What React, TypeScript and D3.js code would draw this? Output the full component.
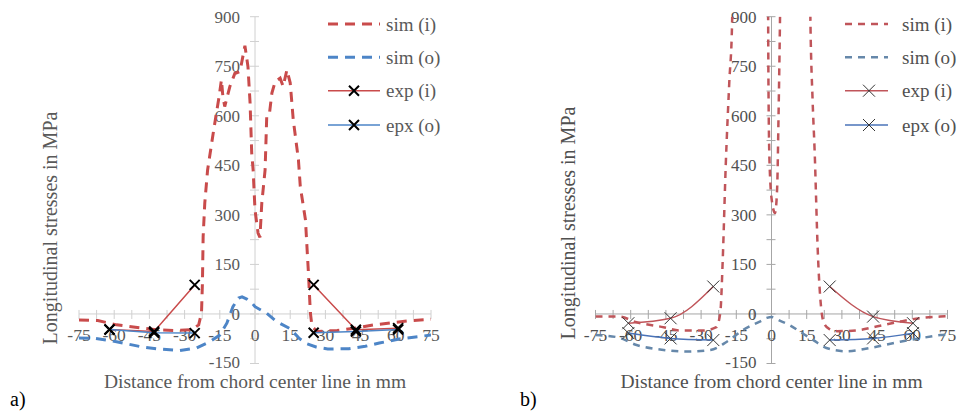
import { useEffect, useRef } from "react";
import * as d3 from "d3";

// ---- chart a) ----
const simInA = [
  [-75, -18], [-67, -20], [-59, -33], [-51, -40], [-42, -48], [-34, -50], [-27, -48], [-24, -33],
  [-22.8, 3], [-22.4, 94], [-22.1, 234], [-21.4, 336], [-20.2, 436], [-17.6, 557], [-15.3, 658],
  [-14.3, 709], [-13.7, 660], [-12.9, 628], [-10.7, 689], [-8.6, 728], [-6.4, 734], [-4.3, 812],
  [-3, 749], [-2.1, 639], [-1.4, 487], [-0.8, 436], [0, 315], [1.3, 245], [2.1, 232], [2.9, 336],
  [4.3, 436], [5, 598], [6.1, 603], [7.2, 669], [8.6, 704], [10.7, 714], [12, 689], [13.6, 739],
  [15, 700], [16.3, 588], [18.5, 467], [19.3, 386], [21.5, 285], [22.7, 133], [23.6, 3], [24.3, -38],
  [26.5, -53], [35, -50], [43.6, -42], [50.6, -33], [59, -26], [66.5, -20], [75, -16],
];
const simOutA = [
  [-75, -73], [-68, -74], [-59, -84], [-48, -100], [-41, -106], [-32, -111], [-25, -103], [-19.3, -84],
  [-15, -64], [-12, -28], [-9.4, 22], [-7, 48], [-5.5, 52], [-3.5, 45], [-1.5, 35], [0, 22], [2.5, 12],
  [5, 2], [9, -22], [15, -45], [19, -75], [22, -90], [26, -100], [31, -106], [40, -105], [47, -98],
  [53, -88], [62, -75], [75, -64],
];
const expXA = [-62, -43, -25.7, 25, 43, 61];
const expInA = [-47, -53, 88, 88, -48, -43];
const expOutA = [-47, -57, -58, -57, -53, -47];

// ---- chart b) ----
const simInB = [
  [-75, -8], [-65, -8], [-57.5, -25], [-46, -40], [-39, -50], [-29, -50], [-23.5, -40], [-21.8, 5],
  [-20.8, 160], [-19.5, 450], [-18, 700], [-16.8, 880], [-16.3, 1100], [-10, 1500], [-1.6, 1100],
  [-1.3, 700], [-0.8, 450], [0.2, 340], [1.5, 306], [2.4, 380], [3, 600], [3.6, 880], [4, 1100],
  [10, 1500], [16.2, 1100], [16.6, 880], [17.5, 650], [18.4, 490], [19.7, 194], [21.1, 22],
  [22.5, -30], [24.5, -45], [28, -52], [36, -50], [44.7, -38], [54.8, -23], [63, -13], [72, -8], [75, -7],
];
const simOutB = [
  [-75, -64], [-66, -70], [-57.5, -94], [-46, -109], [-36, -114], [-26, -109], [-19, -84], [-12, -48],
  [-5, -23], [-2, -12], [0, -9], [3.5, -20], [8, -35], [12, -53], [18, -80], [23.4, -103], [32, -113],
  [42, -103], [54.8, -84], [63, -74], [72, -64], [75, -62],
];
const expXB = [-61, -43, -24.8, 24.8, 43.3, 60.3];
const expInB = [-28, -13, 83, 83, -8, -28];
const expOutB = [-58, -74, -79, -79, -74, -58];

const legendNames = ["sim (i)", "sim (o)", "exp (i)", "epx (o)"];
const yTickValues = [-150, 0, 150, 300, 450, 600, 750, 900];
const xTickValues = [-75, -60, -45, -30, -15, 0, 15, 30, 45, 60, 75];

const FONT = "'Liberation Serif', 'Times New Roman', serif";

function xMark(s) {
  return `M${-s},${-s}L${s},${s}M${-s},${s}L${s},${-s}`;
}

function drawPanel(svg, p) {
  const x = d3.scaleLinear().domain([-75, 75]).range([p.cx - 176, p.cx + 176]);
  const y = d3.scaleLinear().domain([-150, 900]).range([363.5, 16.7]);
  const g = svg.append("g");

  g.append("clipPath").attr("id", p.id + "-clip")
    .append("rect")
    .attr("x", x(-75)).attr("y", y(900))
    .attr("width", x(75) - x(-75)).attr("height", y(-150) - y(900));

  // axes
  g.append("line").attr("x1", x(0)).attr("x2", x(0)).attr("y1", y(900)).attr("y2", y(-150))
    .attr("stroke", p.axis).attr("stroke-width", 1);
  g.append("line").attr("x1", x(-75)).attr("x2", x(75)).attr("y1", y(0)).attr("y2", y(0))
    .attr("stroke", p.axis).attr("stroke-width", 1);

  d3.range(-150, 901, 75).forEach((v) => {
    g.append("line").attr("x1", x(0) - 5).attr("x2", x(0) + 4).attr("y1", y(v)).attr("y2", y(v))
      .attr("stroke", p.axis);
  });
  d3.range(-75, 75.1, 7.5).forEach((v) => {
    g.append("line").attr("x1", x(v)).attr("x2", x(v)).attr("y1", y(0) - 4).attr("y2", y(0) + 5)
      .attr("stroke", p.axis);
  });

  yTickValues.forEach((v) => {
    g.append("text").attr("x", x(0) - 15).attr("y", y(v) - (v === -150 ? 1.5 : 0)).attr("dy", "0.35em")
      .attr("text-anchor", "end").attr("font-family", FONT).attr("font-size", 17)
      .attr("fill", p.text).text(String(v));
  });
  xTickValues.forEach((v) => {
    g.append("text").attr("x", x(v)).attr("y", y(0) + 27)
      .attr("text-anchor", "middle").attr("font-family", FONT).attr("font-size", 17.5)
      .attr("fill", p.text).text(String(v));
  });

  // titles
  g.append("text").attr("x", x(0)).attr("y", 388).attr("text-anchor", "middle")
    .attr("font-family", FONT).attr("font-size", 19.5).attr("fill", p.text)
    .text("Distance from chord center line in mm");
  g.append("text")
    .attr("transform", `translate(${p.yTitleX},${p.yTitleY}) rotate(-90)`)
    .attr("text-anchor", "middle").attr("dy", "0.35em")
    .attr("font-family", FONT).attr("font-size", 20).attr("fill", p.text)
    .text("Longitudinal stresses in MPa");
  g.append("text").attr("x", p.tagX).attr("y", 406)
    .attr("font-family", FONT).attr("font-size", 20).attr("fill", "#000").text(p.tag);

  // series
  const plot = g.append("g").attr("clip-path", `url(#${p.id}-clip)`);
  const line = d3.line().x((d) => x(d[0])).y((d) => y(d[1])).curve(p.curve);

  plot.append("path").datum(p.simIn).attr("d", line).attr("fill", "none")
    .attr("stroke", p.red).attr("stroke-width", p.dashW).attr("stroke-dasharray", p.dash);
  plot.append("path").datum(p.simOut).attr("d", line).attr("fill", "none")
    .attr("stroke", p.blueDash).attr("stroke-width", p.dashW).attr("stroke-dasharray", p.dash);

  const expSeries = [
    { vals: p.expIn, color: p.red },
    { vals: p.expOut, color: p.blue },
  ];
  expSeries.forEach((s) => {
    const pts = p.expX.map((xv, i) => [xv, s.vals[i]]);
    [pts.filter((d) => d[0] < 0), pts.filter((d) => d[0] > 0)].forEach((seg) => {
      plot.append("path").datum(seg).attr("d", line).attr("fill", "none")
        .attr("stroke", s.color).attr("stroke-width", 1.5);
    });
  });
  expSeries.forEach((s) => {
    p.expX.forEach((xv, i) => {
      plot.append("path").attr("d", xMark(p.markS))
        .attr("transform", `translate(${x(xv)},${y(s.vals[i])})`)
        .attr("stroke", p.markColor).attr("stroke-width", p.markW).attr("fill", "none");
    });
  });

  // legend
  const rows = [24, 57.3, 90.7, 125];
  const legendStyles = [
    { color: p.red, dash: p.dash, w: p.dashW, mark: false },
    { color: p.blueDash, dash: p.dash, w: p.dashW, mark: false },
    { color: p.red, dash: null, w: 1.5, mark: true },
    { color: p.blue, dash: null, w: 1.5, mark: true },
  ];
  legendNames.forEach((name, i) => {
    const st = legendStyles[i];
    const ly = rows[i];
    g.append("line").attr("x1", p.lx).attr("x2", p.lx + p.lw).attr("y1", ly).attr("y2", ly)
      .attr("stroke", st.color).attr("stroke-width", st.w)
      .attr("stroke-dasharray", st.dash);
    if (st.mark) {
      g.append("path").attr("d", xMark(p.markS))
        .attr("transform", `translate(${p.lmx},${ly})`)
        .attr("stroke", p.markColor).attr("stroke-width", p.markW).attr("fill", "none");
    }
    g.append("text").attr("x", p.tx).attr("y", ly).attr("dy", "0.35em")
      .attr("font-family", FONT).attr("font-size", 19).attr("fill", p.text).text(name);
  });
}

function App() {
  const ref = useRef(null);

  useEffect(() => {
    const svg = d3.select(ref.current);
    svg.selectAll("*").remove();

    drawPanel(svg, {
      id: "a", tag: "a)", tagX: 10, cx: 255,
      simIn: simInA, simOut: simOutA, expX: expXA, expIn: expInA, expOut: expOutA,
      red: "#c94b4b", blue: "#4d85c7", blueDash: "#4d85c7",
      axis: "#d0d0d0", text: "#595959",
      dash: "10,7", dashW: 3, curve: d3.curveLinear,
      markS: 5, markW: 2, markColor: "#000",
      lx: 328, lw: 52, lmx: 354, tx: 386,
      yTitleX: 50, yTitleY: 228,
    });

    drawPanel(svg, {
      id: "b", tag: "b)", tagX: 520, cx: 771.5,
      simIn: simInB, simOut: simOutB, expX: expXB, expIn: expInB, expOut: expOutB,
      red: "#c0555a", blue: "#4a73b8", blueDash: "#6688aa",
      axis: "#a6a6a6", text: "#505050",
      dash: "7,6", dashW: 2.5, curve: d3.curveMonotoneX,
      markS: 6, markW: 1, markColor: "#333",
      lx: 845, lw: 43, lmx: 869, tx: 902,
      yTitleX: 568, yTitleY: 223,
    });
  }, []);

  return (
    <svg
      ref={ref}
      width={961}
      height={416}
      style={{ position: "absolute", left: 0, top: 0, background: "#fff" }}
    />
  );
}

export default App;
